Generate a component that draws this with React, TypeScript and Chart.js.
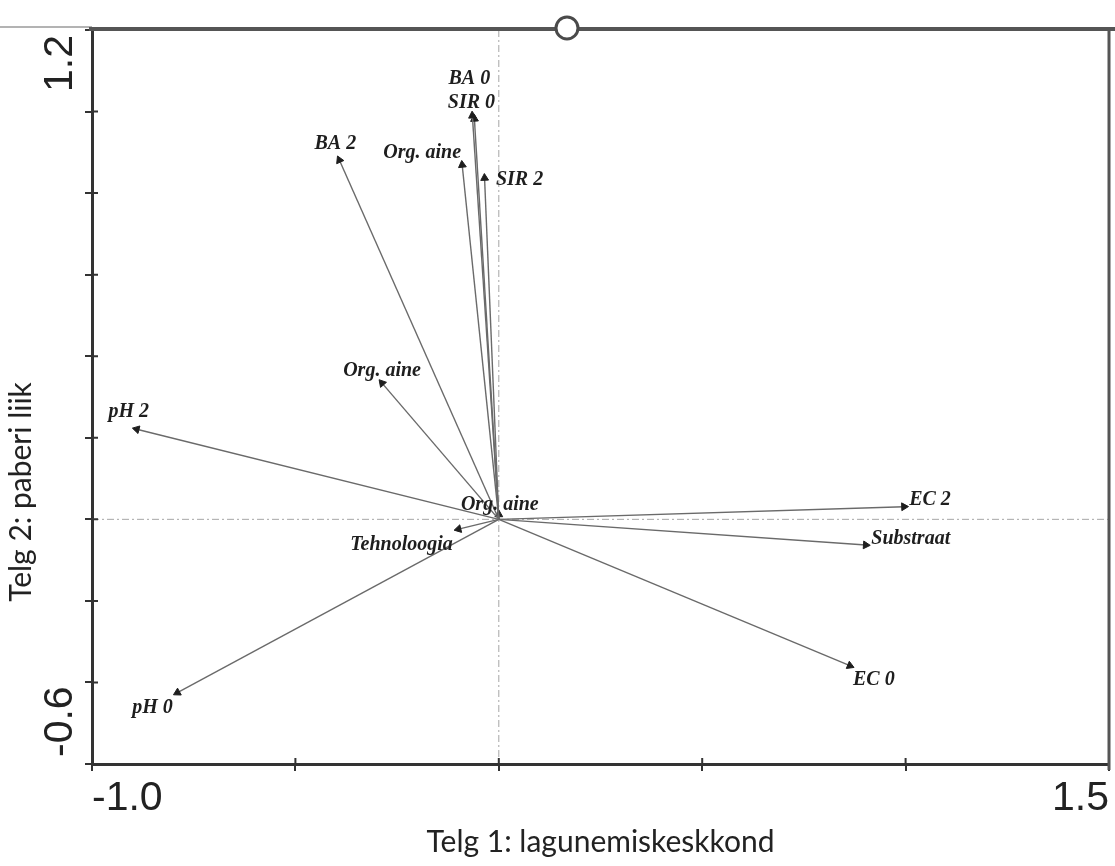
import React, { useEffect, useRef } from 'react';
import { Chart, registerables } from 'chart.js';

Chart.register(...registerables);

// ---- data ----
const arrowNames = ['BA 0', 'SIR 0', 'BA 2', 'Org. aine', 'SIR 2', 'Org. aine', 'pH 2', 'Org. aine', 'Tehnoloogia', 'pH 0', 'EC 2', 'Substraat', 'EC 0'];
const axis1Scores = [-0.065, -0.06, -0.392, -0.09, -0.035, -0.287, -0.89, 0.0, -0.099, -0.79, 0.996, 0.902, 0.863];
const axis2Scores = [0.99, 0.982, 0.881, 0.869, 0.837, 0.334, 0.221, 0.012, -0.024, -0.425, 0.031, -0.063, -0.359];
const xTickLabels = ['-1.0', '1.5'];
const yTickLabels = ['1.2', '-0.6'];
const X_MIN = -1.0;
const X_MAX = 1.5;
const Y_MIN = -0.6;
const Y_MAX = 1.2;
const xAxisTitle = 'Telg 1: lagunemiskeskkond';
const yAxisTitle = 'Telg 2: paberi liik';

// ---- label placement (pixels from arrow tip) ----
const labelOffsets: [number, number][] = [
  [-3, -37], [-3, -16], [-4, -16], [-40, -12], [35, 2], [0, -12], [-8, -17],
  [1, -10], [-57, 16], [-25, 15], [26, -7], [45, -6], [24, 14],
];

const decorPlugin = {
  id: 'decor',
  beforeDatasetsDraw(chart: any) {
    const { ctx, chartArea: a, scales } = chart;
    const x0 = scales.x.getPixelForValue(0);
    const y0 = scales.y.getPixelForValue(0);
    ctx.save();
    ctx.strokeStyle = '#a6a6a6';
    ctx.lineWidth = 1;
    ctx.setLineDash([7, 3, 2, 3]);
    ctx.beginPath();
    ctx.moveTo(x0, a.top);
    ctx.lineTo(x0, a.bottom);
    ctx.moveTo(a.left, y0);
    ctx.lineTo(a.right, y0);
    ctx.stroke();
    ctx.restore();
  },
  afterDraw(chart: any) {
    const { ctx, chartArea: a, scales } = chart;
    const xs = scales.x;
    const ys = scales.y;
    ctx.save();
    // inner halves of tick marks
    ctx.strokeStyle = '#333';
    ctx.lineWidth = 2;
    ctx.beginPath();
    xs.ticks.forEach((t: any) => {
      const px = xs.getPixelForValue(t.value);
      ctx.moveTo(px, a.bottom);
      ctx.lineTo(px, a.bottom - 6);
    });
    ys.ticks.forEach((t: any) => {
      const py = ys.getPixelForValue(t.value);
      ctx.moveTo(a.left, py);
      ctx.lineTo(a.left + 6, py);
    });
    ctx.stroke();

    // right frame
    ctx.strokeStyle = '#555';
    ctx.lineWidth = 3;
    ctx.beginPath();
    ctx.moveTo(a.right, a.top);
    ctx.lineTo(a.right, a.bottom + 6);
    ctx.stroke();

    // top bar
    ctx.strokeStyle = '#9a9a9a';
    ctx.lineWidth = 1.5;
    ctx.beginPath();
    ctx.moveTo(0, a.top - 3);
    ctx.lineTo(a.left, a.top - 3);
    ctx.stroke();
    ctx.strokeStyle = '#555';
    ctx.lineWidth = 4;
    ctx.beginPath();
    ctx.moveTo(a.left - 3, a.top - 1);
    ctx.lineTo(chart.width, a.top - 1);
    ctx.stroke();
    // slider handle
    ctx.beginPath();
    ctx.arc(567, a.top - 2, 11, 0, Math.PI * 2);
    ctx.fillStyle = '#fff';
    ctx.fill();
    ctx.lineWidth = 3;
    ctx.strokeStyle = '#4a4a4a';
    ctx.stroke();

    // y end labels (rotated)
    ctx.fillStyle = '#222';
    ctx.font = '41px "Liberation Sans"';
    ctx.textBaseline = 'alphabetic';
    ctx.textAlign = 'left';
    ctx.save();
    ctx.translate(72, ys.getPixelForValue(Y_MAX) + 62);
    ctx.rotate(-Math.PI / 2);
    ctx.fillText(yTickLabels[0], 0, 0);
    ctx.restore();
    ctx.save();
    ctx.translate(72, ys.getPixelForValue(Y_MIN) - 7);
    ctx.rotate(-Math.PI / 2);
    ctx.fillText(yTickLabels[1], 0, 0);
    ctx.restore();

    // y title
    ctx.save();
    ctx.font = '30px Lato';
    ctx.textAlign = 'center';
    ctx.textBaseline = 'middle';
    ctx.translate(21, 492);
    ctx.rotate(-Math.PI / 2);
    ctx.fillText(yAxisTitle, 0, 0);
    ctx.restore();

    // arrow labels
    ctx.font = 'italic bold 20px "Liberation Serif"';
    ctx.textAlign = 'center';
    ctx.textBaseline = 'middle';
    ctx.fillStyle = '#1e1e1e';
    chart.data.datasets.forEach((ds: any, i: number) => {
      const meta = chart.getDatasetMeta(i);
      const el = meta.data[1];
      if (!el) return;
      const off = labelOffsets[i] || [0, 0];
      ctx.fillText(ds.label, el.x + off[0], el.y + off[1]);
    });
    ctx.restore();
  },
};

export default function App() {
  const ref = useRef<HTMLCanvasElement | null>(null);
  useEffect(() => {
    if (!ref.current) return;
    const datasets = arrowNames.map((name, i) => ({
      label: name,
      data: [
        { x: 0, y: 0 },
        { x: axis1Scores[i], y: axis2Scores[i] },
      ],
      showLine: true,
      borderColor: '#6a6a6a',
      borderWidth: 1.4,
      pointStyle: 'triangle',
      pointRadius: (c: any) => (c.dataIndex === 0 ? 0 : 4.5),
      pointBackgroundColor: '#1e1e1e',
      pointBorderColor: '#1e1e1e',
      pointBorderWidth: 1,
      pointRotation: (c: any) => {
        const xs = c.chart.scales.x;
        const ys = c.chart.scales.y;
        const raw = c.raw;
        if (!raw || !xs || !ys) return 0;
        const dx = xs.getPixelForValue(raw.x) - xs.getPixelForValue(0);
        const dy = ys.getPixelForValue(raw.y) - ys.getPixelForValue(0);
        return (Math.atan2(dx, -dy) * 180) / Math.PI;
      },
      clip: false,
    }));
    const chart = new Chart(ref.current, {
      type: 'scatter',
      data: { datasets },
      options: {
        responsive: false,
        animation: false,
        layout: { padding: { top: 30, right: 6, left: 0, bottom: 0 } },
        plugins: { legend: { display: false }, tooltip: { enabled: false } },
        scales: {
          x: {
            type: 'linear',
            min: X_MIN,
            max: X_MAX,
            afterFit: (s: any) => {
              s.height = 102;
            },
            border: { display: true, color: '#333', width: 3 },
            grid: { drawOnChartArea: false, drawTicks: true, tickLength: 7, color: '#333', lineWidth: 2 },
            ticks: {
              stepSize: 0.5,
              autoSkip: false,
              maxRotation: 0,
              align: 'inner',
              padding: 3,
              color: '#222',
              font: { family: 'Liberation Sans', size: 41 },
              callback: (v: any) => (v === X_MIN ? xTickLabels[0] : v === X_MAX ? xTickLabels[1] : ''),
            },
            title: {
              display: true,
              text: xAxisTitle,
              color: '#222',
              font: { family: 'Lato', size: 30 },
              padding: { top: 0, bottom: 6 },
            },
          },
          y: {
            type: 'linear',
            min: Y_MIN,
            max: Y_MAX,
            afterFit: (s: any) => {
              s.width = 92;
            },
            border: { display: true, color: '#333', width: 3 },
            grid: { drawOnChartArea: false, drawTicks: true, tickLength: 7, color: '#333', lineWidth: 2 },
            ticks: { stepSize: 0.2, display: false },
          },
        },
      },
      plugins: [decorPlugin],
    } as any);
    return () => chart.destroy();
  }, []);
  return (
    <div style={{ position: 'absolute', left: 0, top: 0, width: 1115, height: 866, background: '#fff' }}>
      <canvas ref={ref} width={1115} height={866} style={{ display: 'block' }} />
    </div>
  );
}
